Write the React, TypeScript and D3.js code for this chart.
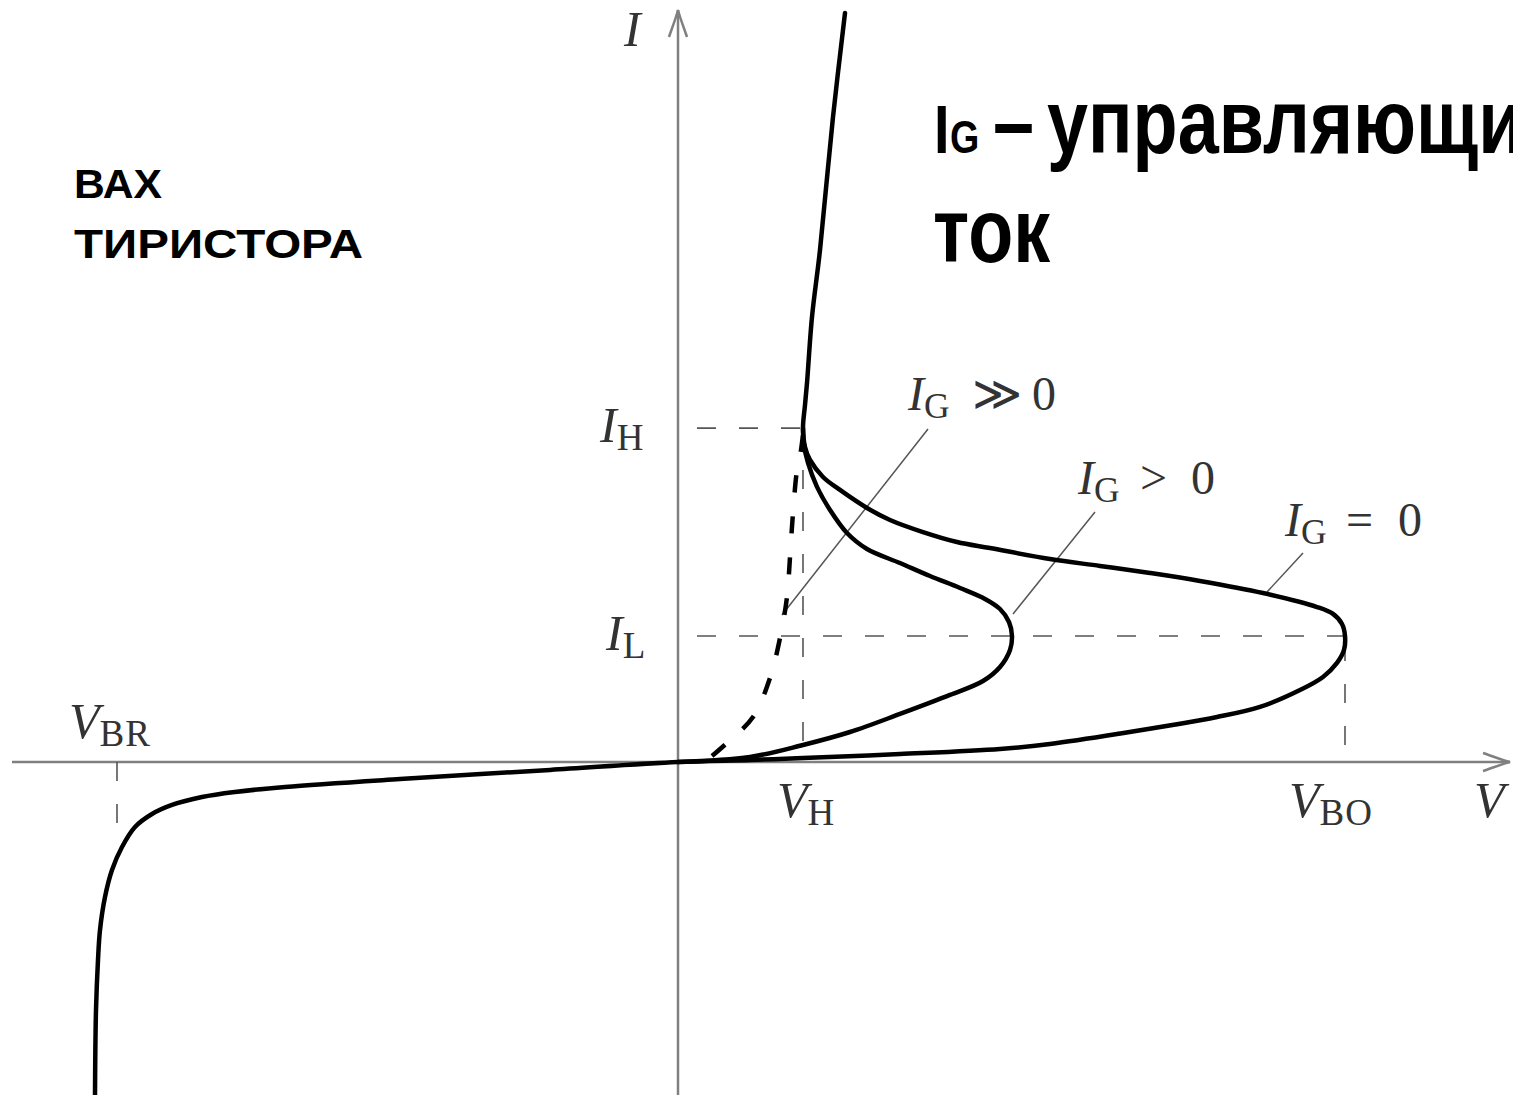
import React from 'react';
import * as d3 from 'd3';

const W = 1513;
const H = 1095;

// Voltage in units of V_H, current in units of I_L
const V_H = 1.0;
const V_BO = 5.336;
const V_BR = -4.488;
const I_H = 2.65;
const I_L = 1.0;

const V_MIN = -5.328;
const V_MAX = 6.656;
const I_MIN = -2.627;
const I_MAX = 5.968;

// Full characteristic for I_G = 0 (reverse branch, forward blocking, negative resistance, on-state)
const curveIG0: [number, number][] = [
  [-4.664, -2.643], [-4.656, -1.968], [-4.64, -1.571], [-4.624, -1.333], [-4.584, -1.071],
  [-4.528, -0.857], [-4.448, -0.675], [-4.344, -0.516], [-4.208, -0.413], [-4.048, -0.341],
  [-3.808, -0.278], [-3.544, -0.238], [-3.144, -0.198], [-2.224, -0.135], [-1.024, -0.063],
  [0, 0], [0.576, 0.016], [1.0, 0.032], [1.776, 0.063], [2.576, 0.103], [2.976, 0.143],
  [3.512, 0.222], [4.312, 0.357], [4.656, 0.437], [4.976, 0.571], [5.16, 0.675], [5.272, 0.786],
  [5.328, 0.889], [5.336, 1.0], [5.312, 1.095], [5.24, 1.175], [5.112, 1.23], [4.68, 1.341],
  [4.176, 1.437], [3.776, 1.5], [3.376, 1.556], [2.976, 1.611], [2.496, 1.698], [2.232, 1.746],
  [1.96, 1.825], [1.696, 1.921], [1.512, 2.016], [1.296, 2.159], [1.16, 2.262], [1.056, 2.397],
  [1.016, 2.5], [1.0, 2.65], [1.016, 2.833], [1.032, 3.008], [1.072, 3.532], [1.136, 4.063],
  [1.24, 5.119], [1.336, 5.944],
];

// Forward branch for I_G > 0
const curveIGpos: [number, number][] = [
  [0, 0], [0.576, 0.04], [1.0, 0.135], [1.376, 0.238], [1.776, 0.381], [2.176, 0.532],
  [2.44, 0.643], [2.576, 0.754], [2.656, 0.889], [2.672, 1.0], [2.648, 1.111], [2.576, 1.214],
  [2.456, 1.294], [2.256, 1.381], [2.016, 1.476], [1.776, 1.579], [1.512, 1.69], [1.352, 1.817],
  [1.216, 2.0], [1.112, 2.183], [1.04, 2.373], [1.008, 2.516], [1.0, 2.65],
];

// Forward branch for I_G >> 0
const curveIGstrong: [number, number][] = [
  [0.272, 0.048], [0.392, 0.151], [0.6, 0.357], [0.736, 0.667], [0.816, 0.984],
  [0.872, 1.31], [0.896, 1.627], [0.92, 1.976], [0.952, 2.317], [0.984, 2.476], [1.0, 2.6],
];

// Leader lines from the labels to their curves: [V1, I1, V2, I2]
const leaders: [number, number, number, number][] = [
  [2.0, 2.643, 0.832, 1.167],
  [3.336, 1.984, 2.68, 1.175],
  [5.0, 1.659, 4.712, 1.349],
];

const gateRelations = ['≫', '>', '='];

const x = d3.scaleLinear().domain([V_MIN, V_MAX]).range([12, 1510]);
const y = d3.scaleLinear().domain([I_MIN, I_MAX]).range([1093, 10]);

const line = d3
  .line<[number, number]>()
  .x((d) => x(d[0]))
  .y((d) => y(d[1]))
  .curve(d3.curveCatmullRom.alpha(0.5));

const GUIDE = '#555';
const AXIS = '#808080';
const MATH = '#333';
const serif = '"Liberation Serif", "DejaVu Serif", serif';
const sans = '"Liberation Sans", Arial, sans-serif';

function MathLabel({ x: px, y: py, main, sub, size = 50 }: { x: number; y: number; main: string; sub: string; size?: number }) {
  return (
    <text x={px} y={py} fontFamily={serif} fontSize={size} fill={MATH}>
      <tspan fontStyle="italic">{main}</tspan>
      <tspan fontSize={size * 0.74} dy={size * 0.16} letterSpacing={1}>{sub}</tspan>
    </text>
  );
}

function GateLabel({ x: px, y: py, rel, relDx, zeroDx }: { x: number; y: number; rel: string; relDx: number; zeroDx: number }) {
  return (
    <g fontFamily={serif} fontSize={48} fill={MATH}>
      <MathLabel x={px} y={py} main="I" sub="G" size={48} />
      <text x={px + relDx} y={py}>{rel}</text>
      <text x={px + zeroDx} y={py}>0</text>
    </g>
  );
}

function Arrow({ tx, ty, angle }: { tx: number; ty: number; angle: number }) {
  return (
    <path
      d="M -9,27 C -6,18 -2,8 0,0 C 2,8 6,18 9,27"
      transform={`translate(${tx},${ty}) rotate(${angle})`}
      fill="none"
      stroke={AXIS}
      strokeWidth={2.5}
    />
  );
}

// big caption is set in a condensed bold face
const SX = 0.82;
const CAP_X = 934;
const cx = (px: number) => (px - CAP_X) / SX;

export default function App() {
  const x0 = x(0);
  const y0 = y(0);
  return (
    <svg
      width={W}
      height={H}
      viewBox={`0 0 ${W} ${H}`}
      style={{ position: 'absolute', left: 0, top: 0, overflow: 'hidden', background: '#fff' }}
    >
      <rect width={W} height={H} fill="#fff" />

      {/* axes */}
      <line x1={x(V_MIN)} y1={y0} x2={x(V_MAX)} y2={y0} stroke={AXIS} strokeWidth={2.5} />
      <line x1={x0} y1={y(I_MIN) + 2} x2={x0} y2={y(I_MAX)} stroke={AXIS} strokeWidth={2.5} />
      <Arrow tx={x(V_MAX)} ty={y0} angle={90} />
      <Arrow tx={x0} ty={y(I_MAX)} angle={0} />

      {/* dashed guides */}
      <g stroke={GUIDE} strokeWidth={1.6} strokeDasharray="19 23" fill="none">
        <line x1={x(0.152)} y1={y(I_H)} x2={x(V_H)} y2={y(I_H)} />
        <line x1={x(0.152)} y1={y(I_L)} x2={x(V_BO)} y2={y(I_L)} />
        <line x1={x(V_H)} y1={y(I_H)} x2={x(V_H)} y2={y(0.135)} />
        <line x1={x(V_BO)} y1={y(I_L) + 6} x2={x(V_BO)} y2={y(0.135)} />
        <line x1={x(V_BR)} y1={y0} x2={x(V_BR)} y2={y(-0.54)} />
      </g>

      {/* leader lines */}
      <g stroke={GUIDE} strokeWidth={1.5}>
        {leaders.map((l, i) => (
          <line key={i} x1={x(l[0])} y1={y(l[1])} x2={x(l[2])} y2={y(l[3])} />
        ))}
      </g>

      {/* characteristics */}
      <g fill="none" stroke="#000" strokeLinecap="round" strokeLinejoin="round">
        <path d={line(curveIG0) ?? ''} strokeWidth={4.5} />
        <path d={line(curveIGpos) ?? ''} strokeWidth={4.5} />
        <path d={line(curveIGstrong) ?? ''} strokeWidth={4.5} strokeDasharray="17 24" strokeLinecap="butt" />
      </g>

      {/* axis and level labels */}
      <text x={x(V_MAX) - 36} y={y0 + 55} fontFamily={serif} fontStyle="italic" fontSize={50} fill={MATH}>V</text>
      <text x={x0 - 54} y={y(I_MAX) + 36} fontFamily={serif} fontStyle="italic" fontSize={50} fill={MATH}>I</text>
      <MathLabel x={x(V_H) - 26} y={y0 + 55} main="V" sub="H" />
      <MathLabel x={x(V_BO) - 56} y={y0 + 55} main="V" sub="BO" />
      <MathLabel x={x(V_BR) - 48} y={y0 - 24} main="V" sub="BR" />
      <MathLabel x={x0 - 78} y={y(I_H) + 14} main="I" sub="H" />
      <MathLabel x={x0 - 72} y={y(I_L) + 14} main="I" sub="L" />

      {/* gate current labels */}
      <GateLabel x={908} y={410} rel={gateRelations[0]} relDx={64} zeroDx={124} />
      <GateLabel x={1078} y={494} rel={gateRelations[1]} relDx={62} zeroDx={113} />
      <GateLabel x={1285} y={536} rel={gateRelations[2]} relDx={61} zeroDx={113} />

      {/* titles */}
      <g fontFamily={sans} fontWeight="bold" fontSize={41} fill="#000">
        <text x={74} y={198} textLength={88} lengthAdjust="spacingAndGlyphs">ВАХ</text>
        <text x={74} y={258} textLength={289} lengthAdjust="spacingAndGlyphs">ТИРИСТОРА</text>
      </g>
      <g transform={`translate(${CAP_X},0) scale(${SX},1)`} fontFamily={sans} fontWeight="bold" fill="#000">
        <text x={0} y={153} fontSize={68}>I</text>
        <text x={cx(950)} y={153} fontSize={46}>G</text>
        <text x={cx(993)} y={153} fontSize={90}>–</text>
        <text x={cx(1047)} y={153} fontSize={90}>управляющий</text>
        <text x={cx(933)} y={262} fontSize={90}>ток</text>
      </g>
    </svg>
  );
}
